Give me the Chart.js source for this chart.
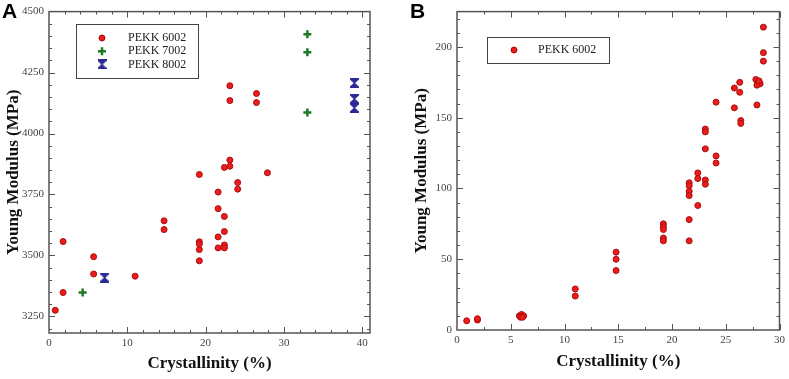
<!DOCTYPE html>
<html lang="en">
<head>
<meta charset="UTF-8">
<title>PEKK Young modulus vs crystallinity</title>
<script src="https://cdn.jsdelivr.net/npm/chart.js@4.4.1/dist/chart.umd.min.js"></script>
<style>
    body {
        margin: 0;
        background: #fff;
    }

    #wrap {
        position: relative;
        width: 789px;
        height: 379px;
    }

    .panel {
        position: absolute;
        top: 0;
        height: 379px;
    }

    #panelA { left: 0; width: 400px; }
    #panelB { left: 400px; width: 389px; }
</style>
</head>
<body>
<div id="wrap">
    <div class="panel" id="panelA"><canvas id="chartA"></canvas></div>
    <div class="panel" id="panelB"><canvas id="chartB"></canvas></div>
</div>

<script>
// ---- Panel A data (Young modulus in MPa vs crystallinity %) ----
const a6002X = [0.8, 1.8, 1.8, 5.7, 5.7, 11.0, 14.7, 14.7, 19.2, 19.2, 19.2, 19.2, 19.2,
    21.6, 21.6, 21.6, 21.6, 22.4, 22.4, 22.4, 22.4, 22.4, 23.1, 23.1, 23.1, 23.1, 24.1, 24.1,
    26.5, 26.5, 27.9];
const a6002Y = [3275, 3557, 3348, 3495, 3424, 3415, 3642, 3606, 3832, 3556, 3547, 3524, 3478,
    3760, 3692, 3576, 3531, 3861, 3660, 3598, 3543, 3531, 4196, 4135, 3891, 3866, 3799, 3772,
    4164, 4127, 3839];
const a7002X = [4.3, 33.0, 33.0, 33.0];
const a7002Y = [3348, 4407, 4333, 4086];
const a8002X = [7.1, 39.0, 39.0, 39.0];
const a8002Y = [3409, 4207, 4142, 4105];
const aXTicks = [0, 10, 20, 30, 40];
const aYTicks = [3250, 3500, 3750, 4000, 4250, 4500];

// ---- Panel B data ----
const b6002X = [0.9, 1.9, 1.9, 5.8, 6.0, 6.2, 5.9, 6.1, 11.0, 11.0, 14.8, 14.8, 14.8,
    19.2, 19.2, 19.2, 19.2, 19.2, 21.6, 21.6, 21.6, 21.6, 21.6, 21.6, 22.4, 22.4, 22.4,
    23.1, 23.1, 23.1, 23.1, 23.1, 24.1, 24.1, 24.1, 25.8, 25.8, 26.3, 26.3, 26.4, 26.4,
    27.8, 28.0, 28.2, 27.9, 28.1, 27.9, 28.5, 28.5, 28.5];
const b6002Y = [6.5, 7, 8, 10, 11, 10, 9, 9, 29, 24, 55, 50, 42,
    75, 73, 71, 65, 63, 104, 102, 98, 95, 78, 63, 111, 107, 88,
    142, 140, 128, 106, 103, 161, 123, 118, 171, 157, 175, 168, 148, 146,
    177, 175, 174, 173, 176, 159, 214, 196, 190];
const bXTicks = [0, 5, 10, 15, 20, 25, 30];
const bYTicks = [0, 50, 100, 150, 200];

const serif = '"Liberation Serif", "Times New Roman", serif';
const RED = '#ee1b1b', RED_EDGE = '#a80f0f', GREEN = '#1e7a22', BLUE = '#2a2a96';

function toPoints(xs, ys) {
    return xs.map((x, i) => ({ x: x, y: ys[i] }));
}

// hourglass marker for PEKK 8002
const hourglass = document.createElement('canvas');
hourglass.width = 9;
hourglass.height = 10;
(function () {
    const c = hourglass.getContext('2d');
    c.fillStyle = BLUE;
    c.beginPath();
    c.moveTo(0, 0); c.lineTo(9, 0); c.lineTo(9, 1.6); c.lineTo(5.2, 5);
    c.lineTo(9, 8.4); c.lineTo(9, 10); c.lineTo(0, 10); c.lineTo(0, 8.4);
    c.lineTo(3.8, 5); c.lineTo(0, 1.6);
    c.closePath();
    c.fill();
})();

function drawMarker(ctx, kind, x, y) {
    ctx.save();
    if (kind === 'circle') {
        ctx.fillStyle = RED;
        ctx.strokeStyle = RED_EDGE;
        ctx.lineWidth = 1;
        ctx.beginPath();
        ctx.arc(x, y, 3, 0, Math.PI * 2);
        ctx.fill();
        ctx.stroke();
    } else if (kind === 'cross') {
        ctx.strokeStyle = GREEN;
        ctx.lineWidth = 2.5;
        ctx.beginPath();
        ctx.moveTo(x - 4, y); ctx.lineTo(x + 4, y);
        ctx.moveTo(x, y - 4); ctx.lineTo(x, y + 4);
        ctx.stroke();
    } else {
        ctx.drawImage(hourglass, x - 4.5, y - 5);
    }
    ctx.restore();
}

// frame, inward major/minor ticks, axis titles, legend box and panel letter
const decor = {
    id: 'decor',
    afterDraw(chart, args, o) {
        const ctx = chart.ctx;
        const a = chart.chartArea;
        const xs = chart.scales.x, ys = chart.scales.y;
        ctx.save();
        ctx.strokeStyle = '#555';
        ctx.lineWidth = 1.5;
        ctx.strokeRect(a.left, a.top, a.right - a.left, a.bottom - a.top);

        ctx.lineWidth = 1;
        const tick = (v, len, horiz) => {
            ctx.beginPath();
            if (horiz) {
                const p = Math.round(xs.getPixelForValue(v)) + 0.5;
                ctx.moveTo(p, a.bottom); ctx.lineTo(p, a.bottom - len);
                ctx.moveTo(p, a.top); ctx.lineTo(p, a.top + len);
            } else {
                const p = Math.round(ys.getPixelForValue(v)) + 0.5;
                ctx.moveTo(a.left, p); ctx.lineTo(a.left + len, p);
                ctx.moveTo(a.right, p); ctx.lineTo(a.right - len, p);
            }
            ctx.stroke();
        };
        for (let v = xs.min; v <= xs.max + 1e-9; v += o.xMinor) {
            const major = o.xTicks.includes(Math.round(v * 100) / 100);
            if (v > xs.min) tick(v, major ? 6 : 3, true);
        }
        for (let v = Math.ceil(ys.min / o.yMinor) * o.yMinor; v <= ys.max + 1e-9; v += o.yMinor) {
            const major = o.yTicks.includes(v);
            if (v > ys.min && v < ys.max) tick(v, major ? 6 : 3, false);
        }

        // axis titles
        ctx.fillStyle = '#111';
        ctx.font = 'bold 17px ' + serif;
        ctx.textAlign = 'center';
        ctx.textBaseline = 'middle';
        ctx.fillText('Crystallinity (%)', (a.left + a.right) / 2, o.xTitleY);
        ctx.save();
        ctx.translate(o.yTitleX, (a.top + a.bottom) / 2);
        ctx.rotate(-Math.PI / 2);
        ctx.fillText('Young Modulus (MPa)', 0, 0);
        ctx.restore();

        // legend
        const L = o.legend;
        ctx.strokeStyle = '#444';
        ctx.lineWidth = 1;
        ctx.strokeRect(L.x + 0.5, L.y + 0.5, L.w, L.h);
        ctx.font = '12px ' + serif;
        ctx.textAlign = 'left';
        ctx.fillStyle = '#222';
        L.items.forEach((it, i) => {
            const yy = L.firstY + i * L.rowH;
            drawMarker(ctx, it.kind, L.markX, yy);
            ctx.fillText(it.label, L.textX, yy);
        });

        // panel letter
        ctx.font = 'bold 21px "Liberation Sans", Arial, sans-serif';
        ctx.textBaseline = 'top';
        ctx.fillStyle = '#000';
        ctx.fillText(o.letter, o.letterX, 2);
        ctx.restore();
    }
};

function makeChart(id, cfg) {
    return new Chart(document.getElementById(id), {
        type: 'scatter',
        data: { datasets: cfg.datasets },
        options: {
            responsive: true,
            maintainAspectRatio: false,
            animation: false,
            layout: { padding: cfg.padding },
            scales: {
                x: {
                    type: 'linear',
                    min: cfg.xMin, max: cfg.xMax,
                    grid: { display: false, drawTicks: false },
                    border: { display: false },
                    afterFit(s) { s.height = cfg.xAxisH; },
                    afterBuildTicks(s) { s.ticks = cfg.xTicks.map(v => ({ value: v })); },
                    ticks: { padding: 4, color: '#444', font: { family: serif, size: 11 },
                             callback: v => String(v) }
                },
                y: {
                    type: 'linear',
                    min: cfg.yMin, max: cfg.yMax,
                    grid: { display: false, drawTicks: false },
                    border: { display: false },
                    afterFit(s) { s.width = cfg.yAxisW; },
                    afterBuildTicks(s) { s.ticks = cfg.yTicks.map(v => ({ value: v })); },
                    ticks: { padding: 5, color: '#444', font: { family: serif, size: 11 },
                             callback: v => String(v) }
                }
            },
            plugins: {
                legend: { display: false },
                tooltip: { enabled: false },
                decor: cfg.decor
            }
        },
        plugins: [decor]
    });
}

makeChart('chartA', {
    padding: { left: 0, right: 30, top: 9, bottom: 0 },
    xMin: 0, xMax: 41, yMin: 3182, yMax: 4500,
    xAxisH: 46, yAxisW: 49,
    xTicks: aXTicks, yTicks: aYTicks,
    datasets: [
        { label: 'PEKK 6002', data: toPoints(a6002X, a6002Y), pointStyle: 'circle', pointRadius: 3,
          backgroundColor: RED, borderColor: RED_EDGE, borderWidth: 1 },
        { label: 'PEKK 7002', data: toPoints(a7002X, a7002Y), pointStyle: 'cross', pointRadius: 4,
          borderColor: GREEN, borderWidth: 2.5 },
        { label: 'PEKK 8002', data: toPoints(a8002X, a8002Y), pointStyle: hourglass, pointRadius: 5 }
    ],
    decor: {
        letter: 'A', letterX: 2, xTitleY: 364, yTitleX: 14,
        xTicks: aXTicks, yTicks: aYTicks, xMinor: 2, yMinor: 50,
        legend: {
            x: 76, y: 24, w: 122, h: 54, markX: 102, textX: 128, firstY: 38, rowH: 13.2,
            items: [
                { kind: 'circle', label: 'PEKK 6002' },
                { kind: 'cross', label: 'PEKK 7002' },
                { kind: 'hourglass', label: 'PEKK 8002' }
            ]
        }
    }
});

makeChart('chartB', {
    padding: { left: 0, right: 8, top: 8, bottom: 0 },
    xMin: 0, xMax: 30, yMin: 0, yMax: 225,
    xAxisH: 49, yAxisW: 57,
    xTicks: bXTicks, yTicks: bYTicks,
    datasets: [
        { label: 'PEKK 6002', data: toPoints(b6002X, b6002Y), pointStyle: 'circle', pointRadius: 3,
          backgroundColor: RED, borderColor: RED_EDGE, borderWidth: 1 }
    ],
    decor: {
        letter: 'B', letterX: 10, xTitleY: 362, yTitleX: 22,
        xTicks: bXTicks, yTicks: bYTicks, xMinor: 2.5, yMinor: 10,
        legend: {
            x: 87, y: 37, w: 122, h: 26, markX: 114, textX: 138, firstY: 50, rowH: 13,
            items: [{ kind: 'circle', label: 'PEKK 6002' }]
        }
    }
});
</script>
</body>
</html>
